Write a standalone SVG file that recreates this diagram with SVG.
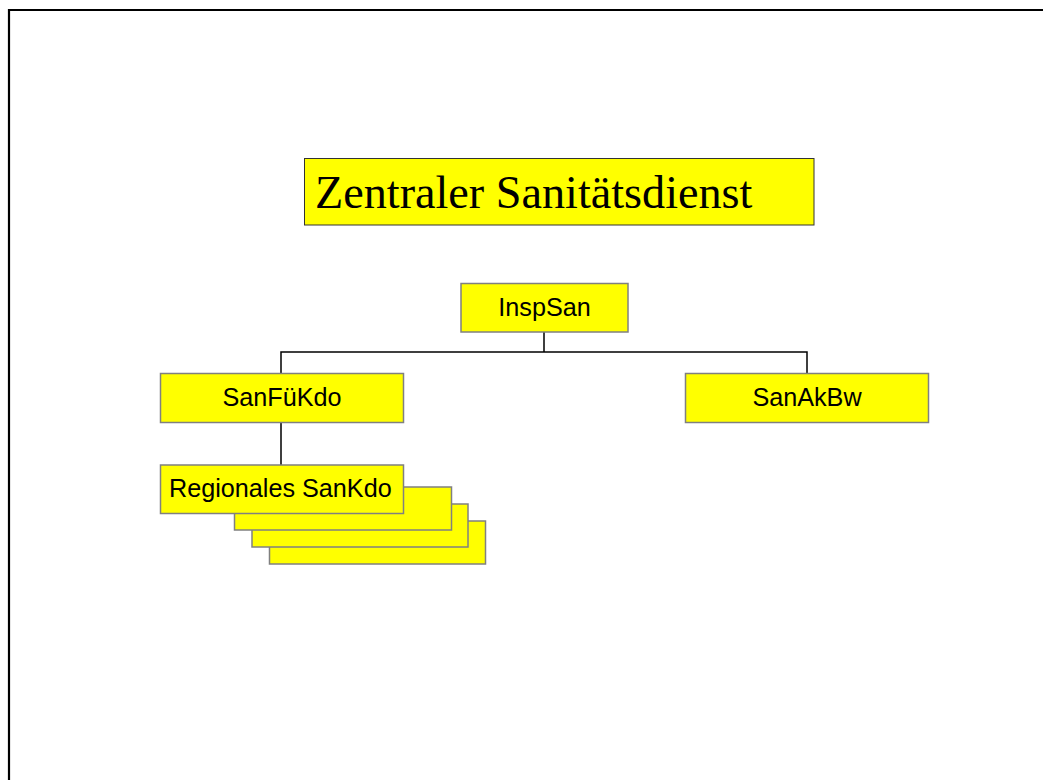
<svg xmlns="http://www.w3.org/2000/svg" width="1043" height="780" viewBox="0 0 1043 780">
<style>
.box{fill:#FFFF00;stroke:#808080;stroke-width:1.5}
.lbl{font-family:"Liberation Sans",Arial,sans-serif;font-size:25.2px;fill:#000}
.conn{stroke:#000;stroke-width:1.5;fill:none}
</style>
<rect x="0" y="0" width="1043" height="780" fill="#fff"/>
<path d="M9,790 V10 H1050" fill="none" stroke="#000" stroke-width="2.2"/>
<g id="title">
<rect x="304.5" y="158.5" width="509.5" height="66.5" fill="#FFFF00" stroke="#333" stroke-width="1"/>
<text x="315" y="207.5" font-family="'Liberation Serif','Times New Roman',serif" font-size="46.2">Zentraler Sanitätsdienst</text>
</g>
<g id="connectors">
<path class="conn" d="M544,332 V352 M281,373 V352 H807 V373 M281,423 V465"/>
</g>
<g id="inspsan">
<rect class="box" x="461" y="283.5" width="167" height="48.5"/>
<text class="lbl" x="544.5" y="315.5" text-anchor="middle">InspSan</text>
</g>
<g id="sanfuekdo">
<rect class="box" x="160.5" y="373.5" width="243" height="49"/>
<text class="lbl" x="282" y="405.5" text-anchor="middle">SanFüKdo</text>
</g>
<g id="sanakbw">
<rect class="box" x="685.5" y="373.5" width="243" height="49"/>
<text class="lbl" x="807" y="405.5" text-anchor="middle">SanAkBw</text>
</g>
<g id="regionales">
<rect class="box" x="269.5" y="521" width="216" height="43"/>
<rect class="box" x="252" y="504" width="216" height="43"/>
<rect class="box" x="234.5" y="487" width="217" height="43"/>
<rect class="box" x="160.5" y="465" width="243" height="48.5"/>
<text class="lbl" x="169" y="497">Regionales SanKdo</text>
</g>
</svg>
